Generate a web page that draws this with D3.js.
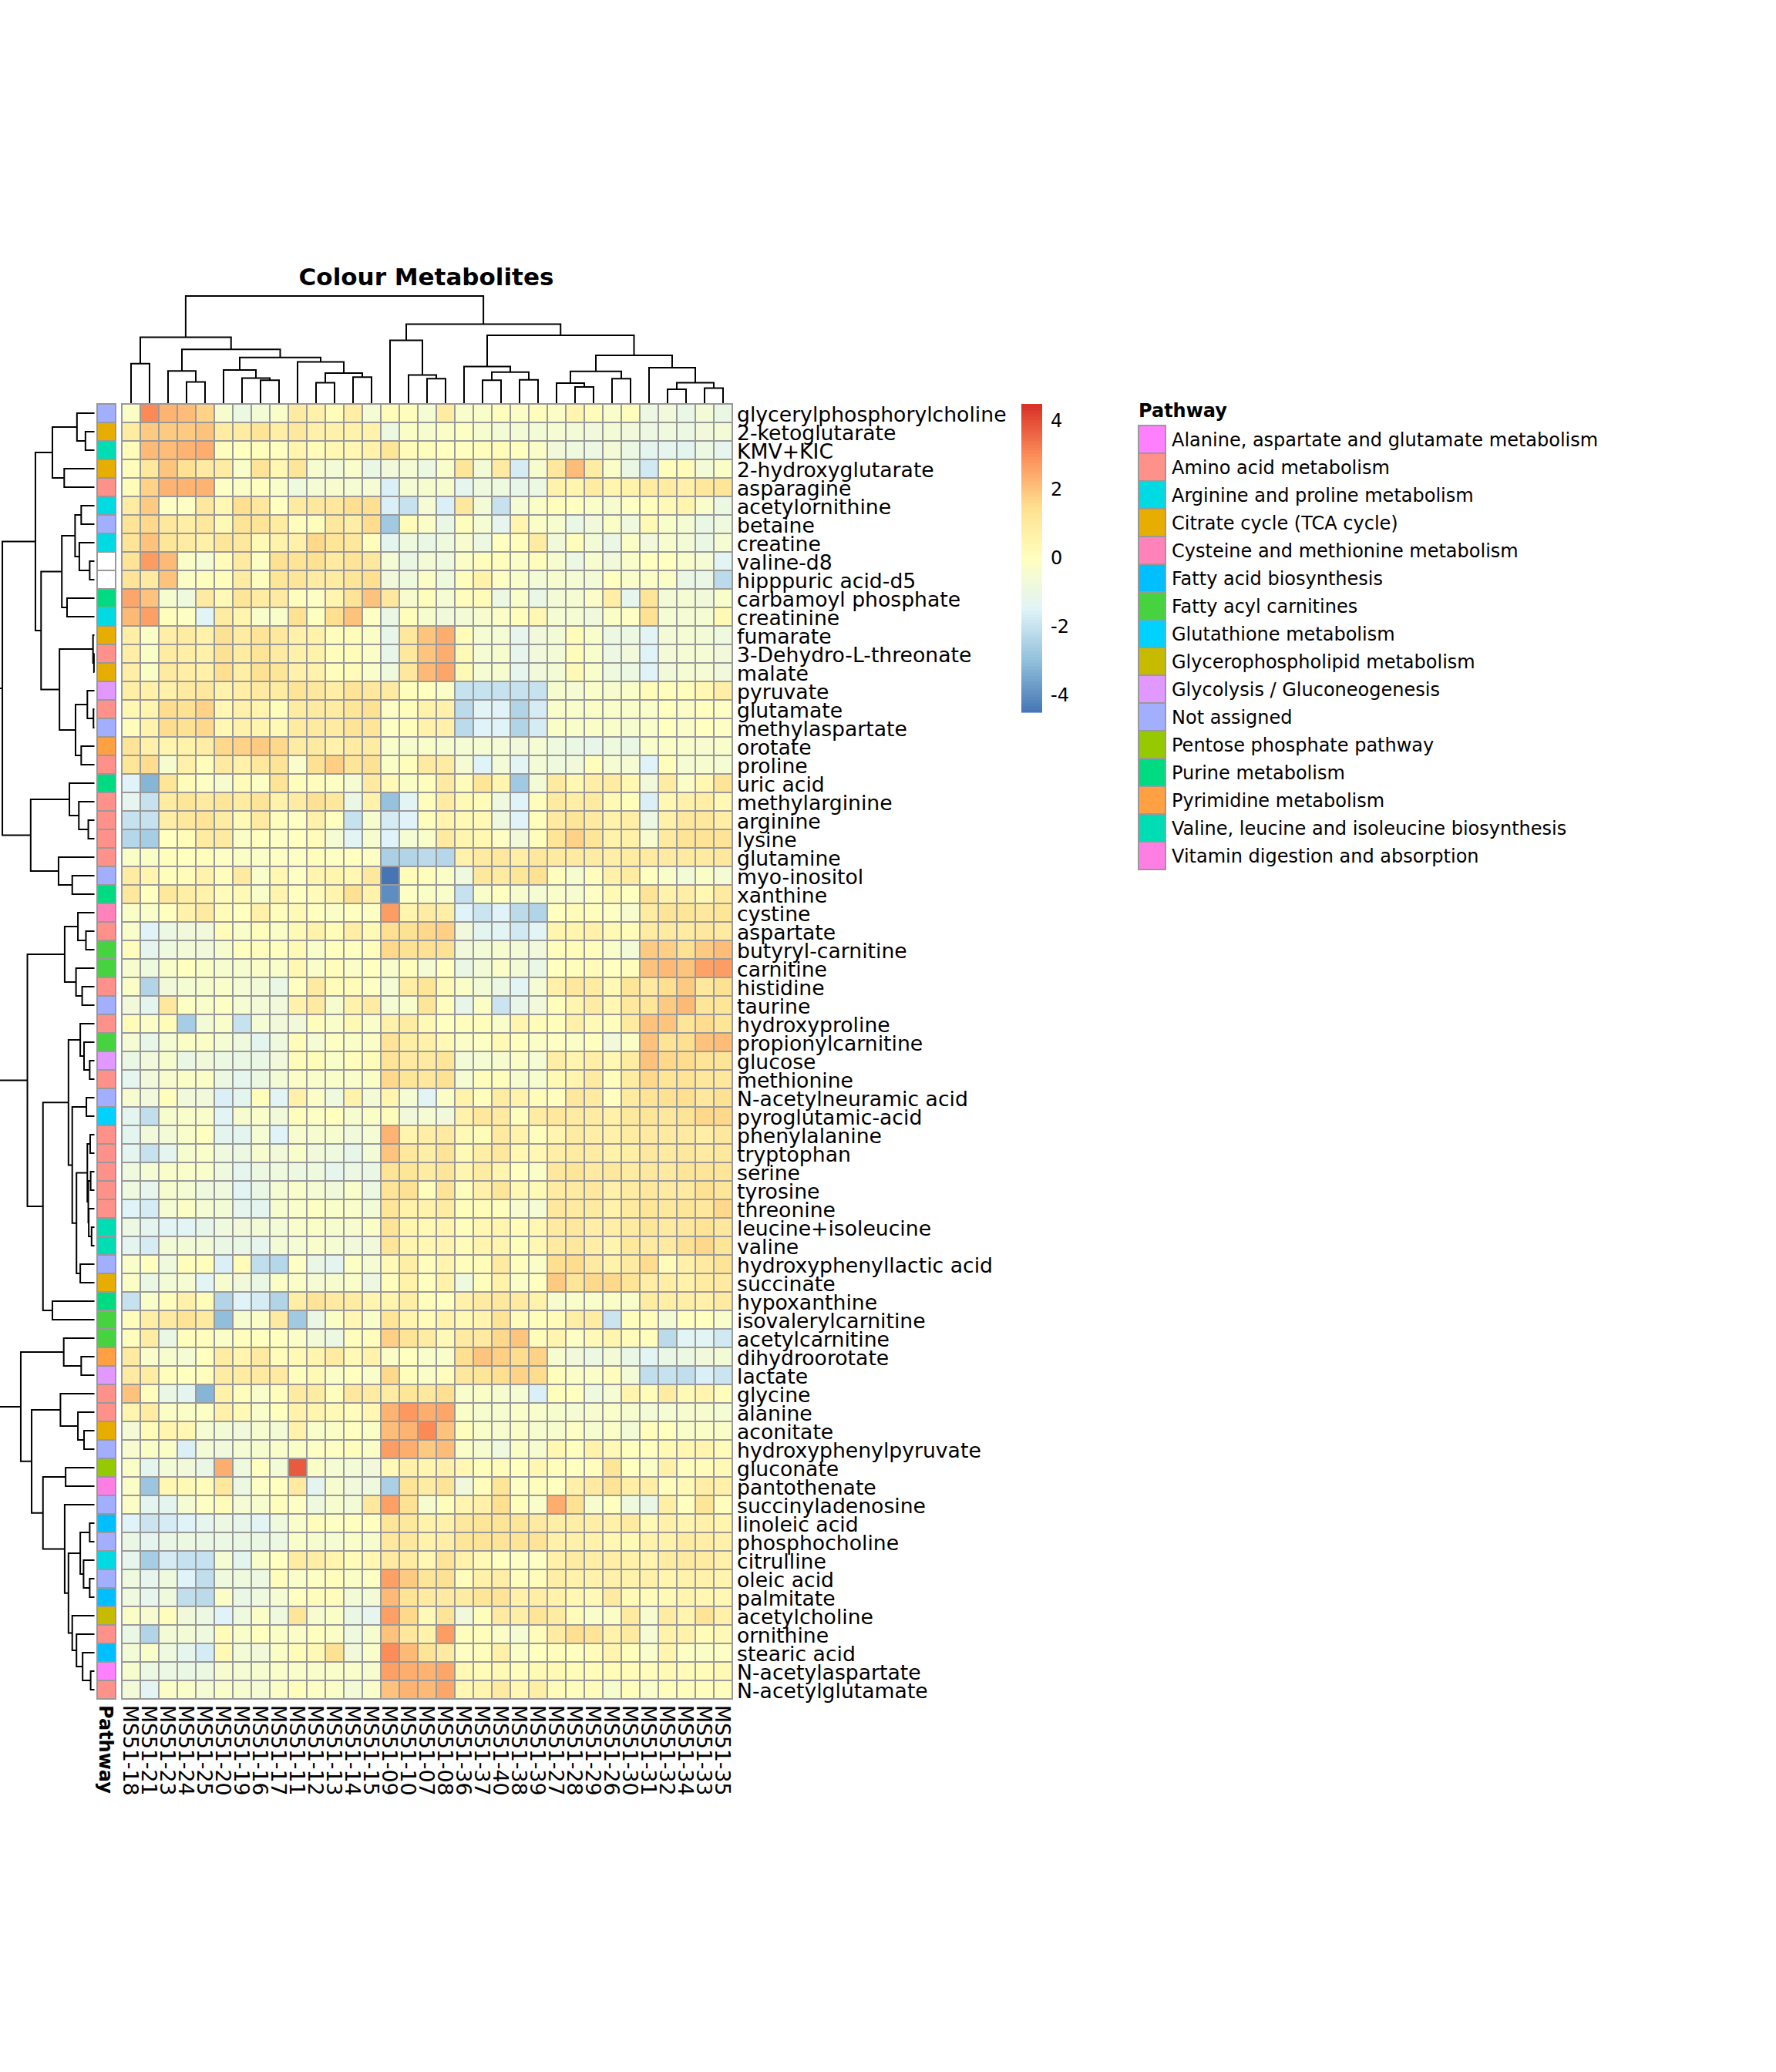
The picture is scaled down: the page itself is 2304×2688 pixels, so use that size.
<!DOCTYPE html>
<html><head><meta charset="utf-8">
<script src="https://cdnjs.cloudflare.com/ajax/libs/d3/7.8.5/d3.min.js"></script>
<style>html,body{margin:0;background:#fff}svg{display:block;font-family:"DejaVu Sans",sans-serif}</style>
</head><body><svg id="c" width="2304" height="2688"></svg>
<script>
const sampleLabels=["MS51-18","MS51-21","MS51-23","MS51-24","MS51-25","MS51-20","MS51-19","MS51-16","MS51-17","MS51-11","MS51-12","MS51-13","MS51-14","MS51-15","MS51-09","MS51-10","MS51-07","MS51-08","MS51-36","MS51-37","MS51-40","MS51-38","MS51-39","MS51-27","MS51-28","MS51-29","MS51-26","MS51-30","MS51-31","MS51-32","MS51-34","MS51-33","MS51-35"];
const metabolites=["glycerylphosphorylcholine","2-ketoglutarate","KMV+KIC","2-hydroxyglutarate","asparagine","acetylornithine","betaine","creatine","valine-d8","hipppuric acid-d5","carbamoyl phosphate","creatinine","fumarate","3-Dehydro-L-threonate","malate","pyruvate","glutamate","methylaspartate","orotate","proline","uric acid","methylarginine","arginine","lysine","glutamine","myo-inositol","xanthine","cystine","aspartate","butyryl-carnitine","carnitine","histidine","taurine","hydroxyproline","propionylcarnitine","glucose","methionine","N-acetylneuramic acid","pyroglutamic-acid","phenylalanine","tryptophan","serine","tyrosine","threonine","leucine+isoleucine","valine","hydroxyphenyllactic acid","succinate","hypoxanthine","isovalerylcarnitine","acetylcarnitine","dihydroorotate","lactate","glycine","alanine","aconitate","hydroxyphenylpyruvate","gluconate","pantothenate","succinyladenosine","linoleic acid","phosphocholine","citrulline","oleic acid","palmitate","acetylcholine","ornithine","stearic acid","N-acetylaspartate","N-acetylglutamate"];
const pathwayNames=["Alanine, aspartate and glutamate metabolism","Amino acid metabolism","Arginine and proline metabolism","Citrate cycle (TCA cycle)","Cysteine and methionine metabolism","Fatty acid biosynthesis","Fatty acyl carnitines","Glutathione metabolism","Glycerophospholipid metabolism","Glycolysis / Gluconeogenesis","Not assigned","Pentose phosphate pathway","Purine metabolism","Pyrimidine metabolism","Valine, leucine and isoleucine biosynthesis","Vitamin digestion and absorption"];
const pathwayColours=["#FF80FF","#FF918B","#00DAE3","#E7AE00","#FF82BA","#00BFFF","#47D340","#00D2FF","#C7BB00","#E199FF","#A2AFFF","#96CA00","#00DA80","#FFA043","#00DCB4","#FF7EE4"];
// pathway index per metabolite (-1 = no annotation)
const rowPathway=[10,3,14,3,1,2,10,2,-1,-1,12,2,3,1,3,9,1,10,13,1,12,1,1,1,1,10,12,4,1,6,6,1,10,1,6,9,1,10,7,1,1,1,1,1,14,14,10,3,12,6,6,13,9,1,1,3,10,11,15,10,5,10,2,10,5,8,1,5,0,1];
const values=[
[-0.2,3.05,2.3,2.15,1.75,-0.4,-0.9,-0.6,-0.3,1.0,0.7,0.2,0.8,-0.5,0.2,0.1,-0.5,0.9,-0.3,-0.3,0.1,-0.2,0.1,-0.2,0.5,0.2,-0.3,0.1,-0.9,-0.7,-1.0,-0.6,-1.0],
[0.9,1.9,1.9,1.9,2.05,0.9,0.9,1.3,0.8,1.1,0.7,0.7,0.6,0.6,-0.9,-0.2,-0.4,-0.2,-0.1,-0.4,-0.6,-0.6,-0.6,-0.5,-0.6,-0.7,-0.6,-0.7,-0.9,-0.8,-0.9,-0.7,-0.6],
[0.2,2.2,2.15,2.3,2.4,0.1,0,0.1,0,0.5,0.2,0.4,0.4,0.6,1.2,0.2,0.1,0,0,0.1,0.2,0,-0.2,-0.7,-0.8,-0.9,-0.6,-0.9,-1.3,-1.2,-1.3,-0.9,-1.2],
[0.1,1.1,2.0,1.4,1.0,0.9,-0.3,1.3,0.4,1.2,-0.4,-0.6,-0.3,-1.0,-0.7,-0.5,-0.9,-0.3,1.2,-0.6,1.0,-1.7,-0.4,1.1,2.15,0.9,-0.2,-1.0,-1.8,0.1,0.2,-0.6,-0.2],
[0.2,1.75,2.3,2.3,2.3,-0.1,-0.2,0,-0.3,-0.8,-0.5,-0.4,-0.5,-0.5,-1.6,-0.5,-0.4,-0.4,-1.2,-0.8,-0.8,-1.1,-0.9,0.6,0.5,0.9,0.5,0.6,0.9,0.9,0.7,1.1,1.2],
[0.9,1.9,-0.1,-0.1,1.1,0.4,1.5,1.1,0,1.0,1.1,1.1,1.5,1.5,-1.6,-2.0,-0.5,-1.6,1.1,-0.6,-2.0,-0.5,-0.2,0.1,0,-0.2,-0.4,-0.1,0.1,0.3,0.5,-0.3,-0.9],
[1.3,1.65,1.1,0.8,1.1,0.3,1.3,1.3,0.9,0.1,0.1,1.1,0.8,1.55,-2.7,0.2,-0.2,-1.0,0.1,-0.5,-1.2,0.5,-0.2,-0.4,-1.0,-0.7,-0.2,-0.8,0.3,-0.3,-0.5,-1.0,-0.8],
[1.3,2.05,1.2,0.9,0.7,1.2,1.1,0.3,0.6,0.7,1.65,1.2,1.1,0.1,-1.3,-0.8,-1.0,-0.8,-0.4,-0.9,0,0.1,0.9,-0.7,0.1,-0.6,-1.0,-0.2,-0.7,-0.4,-0.6,-1.0,-0.5],
[1.3,2.75,2.2,-0.2,-0.5,0.2,1.0,-0.1,1.4,1.3,1.4,1.0,1.3,1.1,-0.5,-1.0,-0.6,-0.8,-0.2,0.1,0.1,-0.2,0.1,-0.4,-0.9,-0.4,-0.7,-0.3,0,0,-0.3,-0.5,-1.4],
[1.3,1.0,2.05,-0.2,0.1,0.1,0.9,0.1,1.2,1.2,0.9,0.9,1.2,1.5,-0.7,-0.8,-0.2,-0.8,0.1,0.6,-0.1,-0.3,-0.6,-0.4,-0.5,-0.6,0,-0.3,-0.2,-0.2,-1.0,-1.0,-2.2],
[2.55,2.05,-0.4,-0.8,1.0,0.3,1.2,0.9,1.0,0.1,-0.1,0.5,1.3,2.05,1.1,-0.4,0.1,-0.5,0.1,0.2,-0.9,-0.3,-1.0,-0.6,-0.5,-0.2,0.8,-1.2,1.2,-0.6,-0.5,-0.7,-0.3],
[2.2,2.65,0.1,-0.1,-1.4,0.9,0.5,-0.3,-0.3,1.4,0,1.5,2.05,-0.1,-1.0,0.1,-0.4,-0.7,-0.6,-0.4,-0.2,0.1,0.4,-0.5,-0.5,-0.7,-0.2,-0.1,1.4,-0.5,-0.5,-0.5,0.3],
[0.8,-0.2,0.8,0.9,0.6,1.4,0.9,1.3,1.1,0.7,0.6,0.1,0.2,-0.2,-1.1,1.1,2.0,2.4,0.2,-0.5,-0.5,-1.2,-0.7,-0.6,0.2,-0.3,-0.9,-0.9,-1.4,-0.6,-0.5,-0.6,-0.8],
[0.8,-0.2,0.9,0.8,0.7,1.4,0.9,1.3,1.0,0.7,0.6,0.1,0.2,-0.2,-1.1,1.1,2.0,2.4,0.3,-0.5,-0.4,-1.2,-0.7,-0.6,0.2,-0.3,-0.9,-0.7,-1.5,-0.6,-0.5,-0.5,-0.7],
[0.8,-0.2,1.0,0.8,0.7,1.5,0.8,1.4,1.2,0.7,0.6,0.1,0.2,-0.3,-0.8,1.1,2.2,2.55,0.3,-0.5,-0.4,-1.2,-0.7,-0.6,0.3,-0.3,-0.8,-0.9,-1.5,-0.7,-0.5,-0.5,-0.7],
[0.8,0.7,0.7,1.0,1.1,0.6,0.8,1.0,0.9,1.3,1.1,0.8,1.3,1.1,1.0,0.1,0,-0.2,-2.0,-2.0,-2.0,-2.0,-2.0,-0.4,-0.5,-0.3,-0.4,-0.3,0.2,0.1,0.1,0.4,0.8],
[0.4,0.5,1.55,1.4,1.75,0.4,0.7,0.5,0.1,0.9,1.0,0.9,1.2,1.4,-0.1,0.1,0.6,0.7,-2.2,-1.4,-1.5,-2.4,-1.7,-0.3,-0.3,-0.2,-0.3,-0.3,-0.3,0,-0.2,0,-0.1],
[0.1,0.6,1.55,1.4,1.65,0.4,0.7,0.5,0.3,0.9,1.0,0.9,1.3,1.2,-0.1,0.1,0.6,0.7,-2.2,-1.5,-1.5,-2.4,-1.7,-0.2,-0.3,-0.2,-0.3,-0.4,-0.3,0,-0.2,0,-0.1],
[1.3,0.7,0.5,0.6,0.8,1.65,1.75,1.9,1.65,0.9,1.0,0.6,0.9,0.9,-0.3,-0.4,-0.3,-0.4,-0.5,-0.5,-0.5,-0.7,-0.5,-0.8,-1.0,-1.1,-0.8,-1.0,-0.3,-0.2,-0.3,-0.4,-0.3],
[1.2,1.55,-0.4,0.7,0.1,1.0,0.7,1.1,1.3,-0.3,1.4,1.8,1.2,1.4,-0.2,0.1,1.0,0.9,-0.5,-1.5,-0.6,-1.4,-0.6,-0.8,-0.7,0.1,-0.5,-0.5,-1.5,0.1,-0.5,-0.4,-0.5],
[-1.5,-3.2,1.2,0.2,-0.1,-0.4,0.2,-0.1,1.3,0.1,0.1,-0.1,-0.5,1.0,0.3,-0.2,0.1,1.0,0.2,1.2,0.5,-2.7,-0.6,1.0,0.4,0.8,0.9,0.4,-0.7,0.9,-0.2,0.4,1.3],
[-1.2,-2.0,0.9,1.2,1.0,1.2,0.9,1.3,0.6,0.9,1.4,1.1,-1.0,0.6,-2.9,-1.4,0.1,0.9,0.3,0.2,-0.8,-1.5,0.1,1.0,0.8,1.0,0.3,0.1,-1.6,0.4,0.7,0.8,0.3],
[-2.0,-2.0,0.8,1.1,1.3,0.9,0.3,1.0,0.1,-0.1,0.7,0,-2.0,-0.4,-1.7,-1.5,0.1,0.5,0.3,0.3,-0.8,-1.5,0.1,1.0,1.2,1.0,0.6,0.8,-0.9,0.7,1.1,1.1,0.8],
[-2.3,-2.6,0,0.2,0.9,1.0,-0.2,0,-0.1,0,0.2,-0.5,-1.4,-0.4,-1.5,-0.5,-0.3,1.0,0.5,0.4,-0.1,-0.7,0.1,1.2,1.75,1.2,0.6,0.7,-0.4,1.0,1.3,1.3,1.3],
[-0.2,-0.2,0.1,0,0.1,-0.1,-0.2,-0.2,-0.1,-0.1,0.1,-0.1,0,-0.1,-2.5,-2.4,-2.2,-2.3,0.6,1.0,1.1,0.8,1.1,1.0,1.0,0.9,0.8,0.9,1.0,1.0,1.0,1.0,1.1],
[0.9,0.5,0.1,0.2,0.6,0.1,1.0,-0.3,0.4,-0.1,0.5,0.5,0.4,1.1,-4.5,0.2,0.1,-0.2,-0.8,1.1,1.0,1.2,1.4,0.1,-0.4,0.1,0.7,0.9,0,-0.3,-0.6,-0.2,-0.5],
[1.1,0,1.1,0.8,0.6,0.2,0.3,-0.3,0.5,0,0.2,0.5,1.4,0.6,-4.0,-0.1,-0.2,-0.3,-2.0,-0.3,0,-0.4,-0.5,-0.3,-0.4,-0.1,0.3,0,1.3,0.6,0.8,0.4,1.0],
[-0.2,-0.3,0,0.6,1.0,0.2,0,0.7,0.1,0.3,0,-0.2,0,-0.1,2.7,0.5,0.9,0.8,-1.5,-1.9,-1.5,-2.2,-2.4,0,0.2,0.1,-0.1,-0.4,0.9,1.3,1.2,1.1,1.2],
[-0.3,-1.5,-0.9,-0.7,-0.7,0.2,-0.3,0.1,-0.2,0.3,0.6,0.2,0.8,0.3,1.5,1.4,1.65,1.8,-0.7,-1.3,-1.4,-1.8,-1.4,0.5,0.5,0.7,0.3,0.2,0.9,1.0,0.9,1.1,1.0],
[0.1,-1.3,-0.8,-0.6,-0.7,-0.4,0,0.1,0,0.3,-0.3,0,0,0.1,1.65,1.4,1.4,1.4,-0.7,-0.6,-0.4,-0.6,-0.7,0.1,0.2,0.1,-0.3,-0.6,1.9,1.8,1.4,1.9,2.15],
[-0.4,-0.8,-0.3,0,-0.2,-0.4,-0.4,-0.2,-0.3,0.4,-0.3,0.1,-0.2,0,-0.3,0.1,-0.5,0,-1.0,-0.6,-0.2,-0.6,-1.0,0,0.1,0.2,0,0.1,2.05,2.2,2.0,2.6,2.7],
[-0.2,-2.4,-0.7,-0.5,-0.4,-0.3,-0.5,-0.6,-1.0,0,1.0,0.2,0.2,-0.1,-0.5,0.8,1.2,0.3,-0.2,-0.6,-0.9,-1.4,-0.5,0.7,1.1,0.9,0.3,1.2,1.0,1.5,1.9,1.1,1.4],
[-0.7,-1.3,1.1,-0.1,-0.3,-0.1,-0.5,-0.6,-0.7,0.6,1.0,-0.4,0.6,0.9,-0.5,-0.3,1.2,0.1,-1.1,-0.2,-1.9,-1.1,-0.7,0.1,0.5,0.9,0.4,1.1,1.2,1.9,2.2,1.2,1.2],
[0.2,-0.2,0.2,-2.6,-0.6,-0.3,-2.0,-0.5,-0.7,-0.7,0.1,-0.3,0.3,-0.3,0.7,0.9,0.3,0,0.1,0.1,-0.3,0.5,0.2,0.1,0.7,0.3,0.1,1.0,2.05,2.0,1.2,1.55,1.2],
[-0.5,-1.1,-0.5,-0.2,-0.2,-0.5,-0.8,-1.3,-0.8,0.2,-0.5,-0.1,-0.2,-0.2,1.3,0.8,0.7,0.3,-0.2,-0.1,0.3,0,-0.2,-0.1,-0.2,0,-0.7,-0.2,2.05,1.3,1.5,2.05,2.15],
[-1.0,-0.7,-0.4,-1.0,-0.7,-0.9,-1.0,-1.0,-0.7,0.2,0.2,-0.3,0.1,0.2,1.3,1.0,1.0,1.2,-0.6,-0.5,-0.4,-0.2,-0.5,0.8,0.5,0.8,0.4,0.9,2.05,1.65,1.55,1.3,1.3],
[-1.2,-0.7,-0.4,-0.2,-0.2,-0.9,-1.2,-0.9,-0.6,-0.2,-0.3,-0.3,-0.3,-0.2,1.65,1.2,1.1,1.4,-0.5,0.1,0.1,-0.4,-0.4,0.3,0.5,1.0,0.1,0.9,1.65,1.2,1.3,1.1,1.1],
[-0.4,-0.7,0.1,-0.7,-0.7,-1.6,-1.3,0.1,-1.4,0.7,-0.2,-0.8,0.6,-0.6,0.5,-0.5,-1.4,-0.2,0.6,0.1,0.9,0.6,0.2,0.1,1.1,1.0,0,1.0,1.3,1.4,1.5,1.1,1.4],
[-1.3,-2.1,-0.4,-0.3,-0.3,-1.4,-0.4,-0.3,-0.7,0.1,-0.1,0,-0.4,-0.2,0.2,-0.7,-0.5,-0.7,0.6,1.1,1.0,0.1,0.9,1.1,0.9,0.9,0.7,1.1,1.2,1.1,1.3,1.65,1.65],
[-1.3,-0.7,-0.6,-0.3,0,-1.3,-1.3,-0.5,-1.5,-0.4,-0.4,-0.4,-0.7,-0.5,2.3,0.5,0.8,1.0,0.3,0.2,1.0,0.6,0.1,0.5,0.9,0.8,0.7,0.9,1.0,1.0,1.0,0.8,1.1],
[-1.3,-2.0,-1.3,-0.4,-0.3,-0.8,-0.9,-0.4,-0.7,-0.3,-0.7,-0.8,-1.1,-0.6,2.0,1.1,0.8,1.3,0.3,0.8,1.1,0.4,0.4,0.8,0.9,0.9,0.6,0.8,1.1,1.0,1.1,1.0,1.1],
[-0.8,-0.5,-0.3,-0.3,-0.3,-0.8,-1.2,-0.9,-0.8,-0.9,-0.8,-1.2,-0.9,-1.0,1.3,1.2,0.9,1.2,0.5,0.9,0.5,0,-0.2,1.1,1.2,1.0,1.1,0.9,1.1,1.0,1.2,1.2,1.2],
[-0.8,-1.2,-0.4,-0.5,-0.8,-0.8,-1.4,-1.0,-0.5,-0.3,-0.5,-0.7,-0.3,-0.9,1.3,1.4,0.1,1.3,0.1,0.7,1.2,0.4,0.3,0.9,1.0,1.1,0.7,0.9,1.1,1.0,1.0,1.4,1.2],
[-1.5,-1.7,-0.5,-0.2,-0.5,-0.6,-1.2,-1.3,-0.4,-0.3,-0.1,-0.3,-0.3,-0.6,1.2,0.6,0.6,0.9,0.1,0.2,0.1,-0.4,-0.5,1.1,1.0,1.0,0.6,1.0,1.2,1.1,1.2,1.1,1.65],
[-0.9,-1.3,-1.4,-1.4,-1.1,-0.8,-0.7,-0.6,-0.6,-0.3,-0.2,-0.4,-0.4,-0.2,1.3,0.5,0.3,0.5,0.1,0.4,0.5,0.2,0.4,1.0,1.1,0.8,0.8,1.0,1.2,1.0,1.1,1.3,1.1],
[-1.3,-1.7,-0.6,-0.6,-0.6,-1.0,-1.0,-1.2,-0.6,-0.5,-0.3,-0.5,-0.7,-0.7,1.2,0.5,0.4,0.5,0.2,0.5,0.5,0.1,0.4,1.0,1.1,0.8,0.5,1.1,1.0,1.0,1.4,1.65,1.2],
[-0.3,0,-0.8,0.1,0.1,-1.6,0.2,-2.1,-2.3,-0.1,-1.0,-1.3,-0.1,-0.5,0.3,0.8,0.1,0.5,0.1,0.2,1.0,0.1,-0.2,1.5,1.55,1.0,0.6,1.0,1.55,0.2,0.7,1.0,1.3],
[-0.2,-1.0,-0.6,-0.5,-1.4,-0.4,-0.7,-1.0,-0.2,-0.2,-0.5,-0.4,-0.3,-0.9,0.1,0.6,0,0.6,-0.8,0.1,0.6,-0.2,0,1.9,1.2,1.65,1.65,1.3,0.8,0.8,0.6,0.9,1.0],
[-2.0,-0.3,0.1,0.7,0.2,-2.4,-1.5,-1.7,-2.4,0.8,1.3,1.0,0.9,0.5,0.5,0.8,0.1,0,0.7,1.0,1.1,1.0,0.6,-0.4,-0.3,-0.3,-0.2,-0.3,0.9,0.8,0.8,0.7,1.0],
[0.1,0.8,1.0,1.3,1.0,-3.0,-0.4,-0.2,1.0,-2.7,-1.0,-0.2,0.4,-0.3,1.2,0.5,0.2,0.6,0.3,0.5,1.3,0.2,0.1,0.2,0.8,0.9,-1.9,0.1,0.1,-0.6,0,0,-0.3],
[0.1,0.9,-1.0,0.1,0.1,-0.2,0.1,0,0,-0.2,-0.6,-0.9,0.1,0.1,1.8,1.3,0.9,0.3,1.0,1.0,1.65,2.0,0.2,0.5,-0.1,0.3,0.5,0.2,0.1,-2.2,-1.4,-1.4,-1.8],
[1.0,-0.3,-0.4,-0.5,0,0.9,0.5,1.0,0.2,0.3,0.5,0.9,0.3,0.6,-0.2,0,-0.3,-0.3,1.5,2.0,1.8,1.55,1.75,-0.4,-0.7,-0.9,-0.6,-1.0,-1.4,-1.0,-0.9,-0.7,-0.6],
[1.0,0.9,0.1,0,0.1,0.9,0.9,1.0,1.0,0.1,0.3,-0.2,0,-0.3,1.65,0.1,-0.2,0.1,1.1,1.2,1.5,1.75,1.55,0.1,-0.2,-0.2,0.1,-0.6,-2.1,-2.0,-2.1,-1.6,-1.9],
[2.05,0.1,-1.0,-1.3,-3.2,0.7,0.1,-0.3,0.1,1.0,0.9,0.1,1.1,0.9,0.9,1.2,1.1,1.5,-0.3,-0.2,-0.4,-0.5,-1.6,0.1,0,-0.8,-0.5,0.5,0.2,0.9,0.3,0.5,0.1],
[0.5,0.9,-0.2,-0.2,-0.1,0.7,0.3,-0.3,0,0.6,0.5,0.3,0.1,0.4,2.3,2.8,2.4,2.55,-0.2,-0.4,-0.4,-0.3,-0.3,-0.4,-0.5,-0.4,-0.3,-0.4,-0.6,-0.5,-0.4,-0.4,-0.5],
[-0.6,0.2,0.5,0.4,-0.5,-0.6,-0.7,-0.4,-0.6,0.6,-0.3,-0.2,0,-0.2,2.15,2.3,3.05,2.05,0.1,-0.3,-0.4,-0.2,-0.4,-0.4,-0.1,-0.4,-0.2,-0.6,0.1,0,-0.3,-0.2,-0.2],
[-0.4,-0.2,-0.2,-1.6,-0.6,-0.7,-0.5,-0.4,-0.3,-0.2,-0.1,-0.1,0.1,-0.2,2.7,2.4,1.9,2.15,-0.2,-0.4,-0.8,-0.2,-0.4,0.4,0,0.6,0.3,0,0,0.3,0.4,0.5,0.2],
[-0.2,-1.3,-0.6,-0.7,-1.0,2.4,-0.8,0,-0.6,3.8,-0.2,-0.5,-0.6,-0.7,0.3,0.7,0.5,0.7,0.4,0.1,0.2,0,0.4,0.1,0,0.1,1.2,0,-0.2,0.7,0.1,0.2,0.3],
[-0.2,-2.8,0.4,0.3,0.2,1.1,-0.9,-0.1,0,1.0,-1.3,-0.4,-0.7,-0.8,-2.5,1.3,0.9,1.3,-0.7,0.1,1.2,-0.1,0.1,0,0.7,1.0,1.3,0.8,0.8,0.1,0.3,0.8,0.7],
[-0.2,-1.3,-1.3,-0.5,-0.1,0.2,-0.5,-0.4,0.1,-0.1,-0.8,-0.4,-0.6,1.1,2.65,1.4,-0.4,0.1,0.5,0.7,1.5,0.1,-0.3,2.4,1.4,-0.4,0,-0.8,-1.0,0.8,0,1.2,0.1],
[-1.5,-1.9,-1.7,-1.5,-1.2,-0.9,-1.1,-1.4,-0.8,-0.3,0.1,-0.1,0,0,1.2,1.1,0.6,0.7,1.1,1.2,1.3,1.2,1.0,0.8,0.8,0.8,0.7,1.0,0.3,0.7,0.5,0.7,0.5],
[-1.0,-1.3,-1.0,-0.9,-1.0,-0.9,-1.0,-1.0,-0.9,-0.3,-0.4,-0.5,-0.3,-0.4,1.1,1.1,0.6,0.8,1.2,1.3,1.3,1.3,1.3,0.7,0.7,0.6,0.4,0.3,0.6,0.6,0.9,0.8,0.7],
[-1.2,-2.6,-1.7,-2.0,-2.0,-0.5,-1.3,-0.3,0,0.9,0.8,0.5,0.2,0.4,1.0,0.9,0.4,1.3,0.6,0.3,0,-0.1,-0.1,0.7,0.9,0.8,0.8,0.7,0.5,0.9,1.0,0.9,0.7],
[-0.8,-1.2,-0.8,-1.5,-2.1,-0.8,-0.8,-0.9,0.1,-0.3,-0.1,0.1,-0.2,-0.1,2.65,1.9,1.2,1.4,0.1,0.7,0.8,0.1,0.2,0.8,0.6,0.6,0.7,0.6,0.7,0.5,0.6,0.6,0.5],
[-0.8,-1.2,-0.8,-2.1,-2.2,-0.2,-1.0,-0.8,-0.5,0,0.1,0.1,-0.6,-0.6,2.2,1.3,1.0,1.0,0.9,1.2,1.3,0.7,0.8,0.6,0.4,0.3,1.0,0.3,0.2,0.3,0.5,0.4,0.4],
[-0.2,-0.4,0.1,-0.7,-0.9,-1.5,-0.8,-0.2,-0.8,1.2,-0.4,-0.2,-1.0,-1.2,2.65,1.65,0.3,1.3,-0.7,0.1,1.0,0.8,1.2,0.9,0.2,-0.3,-0.2,1.0,-0.4,0.9,0.5,1.3,0.7],
[-1.0,-2.4,-0.6,-0.6,-0.8,0.2,-0.3,0,-0.2,-0.2,0,-0.2,-0.8,-0.4,2.05,1.1,0.6,2.7,0.1,0.1,-0.2,-0.5,0.2,0.9,1.5,1.3,0.6,1.0,-0.5,0.6,0.6,0.2,0.3],
[-0.6,-0.3,-0.8,-1.2,-1.7,0.3,-0.6,-0.7,-0.2,0.2,0.3,1.4,-0.7,-0.3,3.0,2.2,1.3,1.0,-0.1,0.1,0.7,-0.2,0,0.1,0,0.2,0.5,0.1,-0.3,0.5,-0.1,-0.2,-0.1],
[-0.4,-0.9,-0.9,-1.0,-0.9,-0.4,-0.5,-0.4,-0.3,-0.3,-0.3,-0.3,-0.3,-0.4,2.65,2.4,2.3,2.55,0.3,0.2,0.3,0.1,0.3,0.3,0.2,0.2,0.2,0.2,0.1,0.3,0.2,0.2,0.3],
[-0.6,-1.4,-0.2,-0.3,-0.5,-0.3,-0.4,-0.5,-0.2,0.1,-0.1,-0.2,-0.6,-0.3,2.05,2.3,2.2,2.55,0.4,0.5,1.0,0.4,0.8,0.2,0.1,0.2,-0.4,0.1,-0.3,0.1,0.1,0.1,0.1]
];
// dendrogram merges: [height, left, right]; numbers are 1-based leaf positions
const colTree=[363,[223,[134,1,2],[182,[109,3,[72,4,5]],[155,[112,6,[85,7,[78,8,9]]],[140,10,[102,[69,11,12],[88,13,14]]]]]],[268,[213,15,[95,16,[83,17,18]]],[230,[124,19,[105,[78,20,21],[79,22,23]]],[162,[108,[68,24,[55,25,26]],[83,27,28]],[120,29,[69,[47,30,31],[51,32,33]]]]]]];
const rowTreeTop=[195,[125,[89,[37,1,[19,2,3]],[64,4,5]],[113,[69,[41,[28,6,7],[32,8,[10,9,10]]],[58,11,12]],[74,[3,13,[1,14,15]],[40,[15,16,[2,17,18]],[28,19,20]]]]],[135,[53,21,[33,22,[13,23,24]]],[76,25,[47,26,27]]]];
const rowTreeMid=[142,[63,[35,28,[18,29,30]],[39,31,[26,32,33]]],[109,[55,[30,34,[22,35,[10,36,37]]],[47,[17,38,39],[38,[15,[9,40,41],[13,[8,42,43],[12,44,[6,45,46]]]],[30,47,48]]]],[89,49,50]]];
const rowTreeLow=[156,[65,51,[28,52,53]],[133,[72,54,[35,55,[22,56,57]]],[109,[61,58,59],[63,60,[55,[30,[10,61,62],[23,63,[10,64,65]]],[47,66,[38,67,[25,68,[8,69,70]]]]]]]]];
const legendTicks=[-4,-2,0,2,4];

const svg=d3.select("#c");
svg.append("rect").attr("width",2304).attr("height",2688).attr("fill","#fff");
const GRID="#999999";
const x=d3.scaleBand().domain(d3.range(sampleLabels.length)).range([158,950]);
const y=d3.scaleBand().domain(d3.range(metabolites.length)).range([524,2204]);
const colour=d3.scaleLinear().domain([-4.5,-3,-1.5,0,1.5,3,4.5]).range(["#4575B4","#91BFDB","#E0F3F8","#FFFFBF","#FEE090","#FC8D59","#D73027"]);

// heatmap
svg.append("g").selectAll("g").data(values).join("g").each(function(row,i){
  d3.select(this).selectAll("rect").data(row).join("rect")
    .attr("x",(d,j)=>x(j)).attr("y",y(i)).attr("width",x.bandwidth()).attr("height",y.bandwidth())
    .attr("fill",d=>colour(d)).attr("stroke",GRID).attr("stroke-width",2);
});
// annotation strip
const ann=d3.scaleBand().domain([0]).range([126,150]);
svg.append("g").selectAll("rect").data(rowPathway).join("rect")
  .attr("x",ann(0)).attr("y",(d,i)=>y(i)).attr("width",ann.bandwidth()).attr("height",y.bandwidth())
  .attr("fill",d=>d<0?"#fff":pathwayColours[d]).attr("stroke",GRID).attr("stroke-width",2);

// row labels
svg.append("g").selectAll("text").data(metabolites).join("text")
  .attr("x",956).attr("y",(d,i)=>y(i)+y.bandwidth()/2+1).attr("dy","0.36em")
  .attr("font-size",26.67).attr("fill","#000").text(d=>d);
// column labels
svg.append("g").selectAll("text").data(sampleLabels).join("text")
  .attr("transform",(d,i)=>`translate(${x(i)+x.bandwidth()/2},2212) rotate(90)`).attr("dy","0.36em")
  .attr("font-size",26.67).attr("fill","#000").text(d=>d);
svg.append("text").attr("transform",`translate(${ann(0)+ann.bandwidth()/2},2212) rotate(90)`).attr("dy","0.36em")
  .attr("font-size",24).attr("font-weight","bold").text("Pathway");
// title
svg.append("text").attr("x",553).attr("y",370).attr("text-anchor","middle").attr("font-size",31).attr("font-weight","bold").text("Colour Metabolites");

// dendrograms
function drawTree(tree,leafPos,hPos,horizontal){
  const g=svg.append("g").attr("fill","none").attr("stroke","#000").attr("stroke-width",2);
  const p=d3.path();
  (function walk(n){
    if(typeof n==="number")return {c:leafPos(n-1),h:0};
    const a=walk(n[1]),b=walk(n[2]),H=n[0];
    const pt=(c,h)=>horizontal?[hPos(h),c]:[c,hPos(h)];
    p.moveTo(...pt(a.c,a.h));p.lineTo(...pt(a.c,H));p.lineTo(...pt(b.c,H));p.lineTo(...pt(b.c,b.h));
    return {c:(a.c+b.c)/2,h:H};
  })(tree);
  g.append("path").attr("d",p.toString());
}
const colH=d3.scaleLinear().domain([0,363]).range([523,384]);
const rowH=d3.scaleLinear().domain([0,200]).range([122.5,0]);
drawTree(colTree,i=>x(i)+x.bandwidth()/2,colH,false);
// the three upper row clusters join beyond the left page edge, so their trunks run off the page
[rowTreeTop,rowTreeMid,rowTreeLow].forEach(t=>drawTree([230,t,t],i=>y(i)+y.bandwidth()/2,rowH,true));

// colour bar
const barY=d3.scaleLinear().domain([-4.5,4.5]).range([924,524]);
const steps=d3.range(100).map(i=>-4.5+9*i/100);
svg.append("g").selectAll("rect").data(steps).join("rect")
  .attr("x",1325).attr("width",27).attr("y",d=>barY(d+0.09)).attr("height",d=>barY(d)-barY(d+0.09)+0.6).attr("fill",d=>colour(d+0.045));
const axis=svg.append("g").attr("transform","translate(1352,0)").call(d3.axisRight(barY).tickValues(legendTicks).tickSize(0).tickPadding(11).tickFormat(d3.format("d")));
axis.select(".domain").remove();
axis.selectAll("text").attr("font-family","DejaVu Sans").attr("font-size",24).attr("fill","#000").text(d=>String(d));

// legend
const lg=d3.scaleBand().domain(d3.range(pathwayNames.length)).range([552,1128]);
svg.append("text").attr("x",1477).attr("y",541).attr("font-size",24).attr("font-weight","bold").text("Pathway");
svg.append("g").selectAll("rect").data(pathwayColours).join("rect")
  .attr("x",1477).attr("width",35).attr("y",(d,i)=>lg(i)).attr("height",lg.bandwidth()).attr("fill",d=>d).attr("stroke",GRID).attr("stroke-width",2);
svg.append("g").selectAll("text").data(pathwayNames).join("text")
  .attr("x",1520).attr("y",(d,i)=>lg(i)+lg.bandwidth()/2).attr("dy","0.36em").attr("font-size",24).attr("fill","#000").text(d=>d);
</script></body></html>
